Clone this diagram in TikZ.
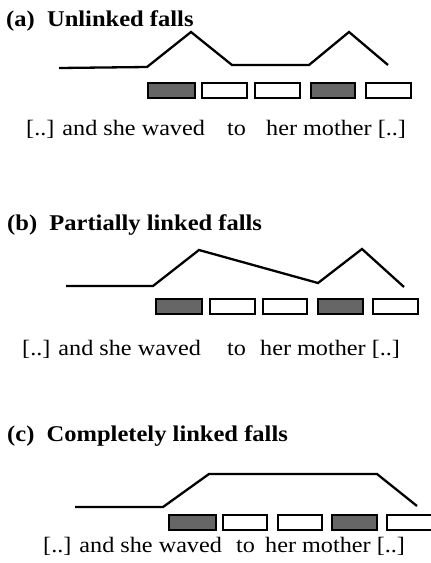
\documentclass[tikz,border=0pt]{standalone}
\usepackage{fontspec}
\setmainfont{Liberation Serif}
\usepackage{graphicx}
\begin{document}
\begin{tikzpicture}[x=1pt,y=-1pt,
  contour/.style={line width=2.3pt, line join=miter, line cap=butt},
  syl/.style={draw, line width=1.8pt, fill=white, inner sep=0, outer sep=0, anchor=north west, minimum height=15pt},
  acc/.style={syl, fill=black!60},
  word/.style={anchor=base west, inner sep=0, font=\fontsize{22}{24}\selectfont},
  ttl/.style={anchor=base west, inner sep=0, font=\fontsize{22.5}{24}\selectfont\bfseries}]
\useasboundingbox (0,0) rectangle (431,563);

% ---------- (a) ----------
\node[ttl] (ta) at (6,26) {\scalebox{1.09}[1]{(a)\ \ Unlinked falls}};
\draw[contour] (59,68) -- (147,67) -- (191,32) -- (232,65) -- (309,65) -- (349,32) -- (388,65);
\node[acc, minimum width=47pt] (a1) at (148,83) {};
\node[syl, minimum width=45pt] (a2) at (202,83) {};
\node[syl, minimum width=45pt] (a3) at (255,83) {};
\node[acc, minimum width=44pt] (a4) at (311,83) {};
\node[syl, minimum width=45pt] (a5) at (366,83) {};
\node[word] (aw1) at (26,135) {\scalebox{1.1}[1]{[..] and she waved}};
\node[word] (aw2) at (227,135) {\scalebox{1.1}[1]{to}};
\node[word] (aw3) at (266,135) {\scalebox{1.1}[1]{her mother [..]}};

% ---------- (b) ----------
\node[ttl] (tb) at (7,230) {\scalebox{1.09}[1]{(b)\ \ Partially linked falls}};
\draw[contour] (66,286) -- (153,286) -- (199,250) -- (318,283) -- (362,249) -- (404,287);
\node[acc, minimum width=46pt] (b1) at (156,299) {};
\node[syl, minimum width=45pt] (b2) at (210,299) {};
\node[syl, minimum width=44pt] (b3) at (263,299) {};
\node[acc, minimum width=45pt] (b4) at (318,299) {};
\node[syl, minimum width=45pt] (b5) at (373,299) {};
\node[word] (bw1) at (22,355) {\scalebox{1.1}[1]{[..] and she waved}};
\node[word] (bw2) at (227,355) {\scalebox{1.1}[1]{to}};
\node[word] (bw3) at (260,355) {\scalebox{1.1}[1]{her mother [..]}};

% ---------- (c) ----------
\node[ttl] (tc) at (7,441) {\scalebox{1.09}[1]{(c)\ \ Completely linked falls}};
\draw[contour] (75,507) -- (163,507) -- (209,474) -- (377,474) -- (417,506);
\node[acc, minimum width=47pt] (c1) at (169,515) {};
\node[syl, minimum width=44pt] (c2) at (223,515) {};
\node[syl, minimum width=44pt] (c3) at (278,515) {};
\node[acc, minimum width=45pt] (c4) at (332,515) {};
\node[syl, minimum width=46pt] (c5) at (387,515) {};
\node[word] (cw1) at (43,552) {\scalebox{1.1}[1]{[..] and she waved}};
\node[word] (cw2) at (236,552) {\scalebox{1.1}[1]{to}};
\node[word] (cw3) at (265,552) {\scalebox{1.1}[1]{her mother [..]}};
\end{tikzpicture}
\end{document}
